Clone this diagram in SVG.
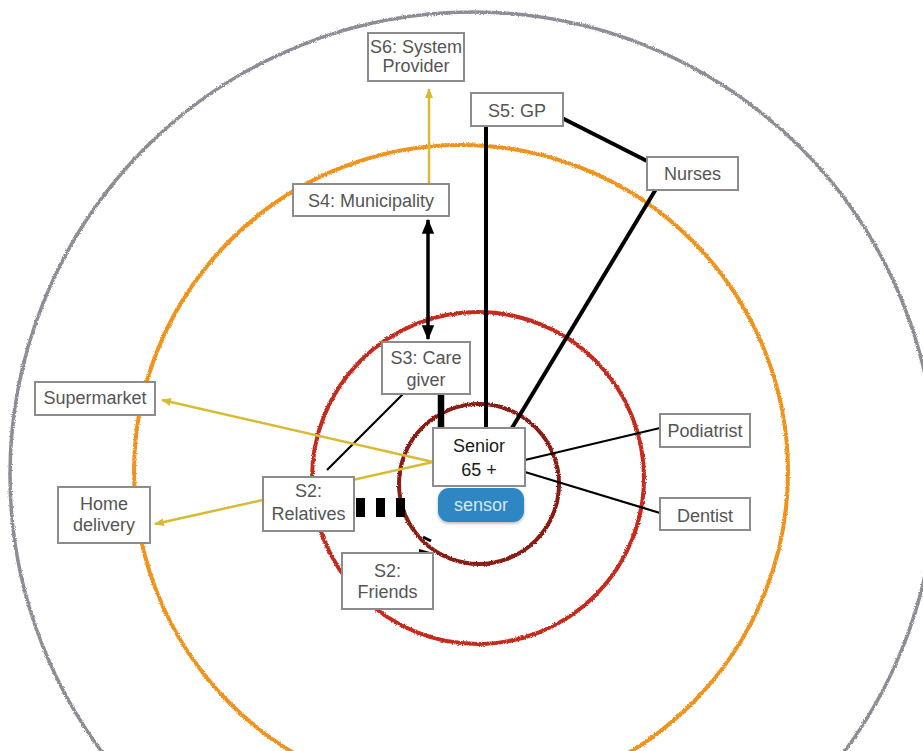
<svg xmlns="http://www.w3.org/2000/svg" width="923" height="751" viewBox="0 0 923 751">
  <style>
    .ring { fill: none; filter: url(#rough); }
    .box { fill: #ffffff; stroke: #8c8c8c; stroke-width: 2; }
    .lbl { font-family: "Liberation Sans", Arial, sans-serif; font-size: 18px; fill: #555555; text-anchor: middle; }
    .dark { fill: #1a1a1a; }
    .link { stroke: #000000; fill: none; }
    .gold { stroke: #d8bb34; fill: none; stroke-width: 2.5; }
  </style>
  <defs>
    <filter id="rough" x="-10%" y="-10%" width="120%" height="120%">
      <feTurbulence type="fractalNoise" baseFrequency="0.9" numOctaves="2" seed="3" result="n"/>
      <feDisplacementMap in="SourceGraphic" in2="n" scale="3" xChannelSelector="R" yChannelSelector="G"/>
    </filter>
    <filter id="shadow" x="-20%" y="-30%" width="140%" height="160%">
      <feDropShadow dx="0" dy="1.5" stdDeviation="1.5" flood-color="#000" flood-opacity="0.3"/>
    </filter>
    <marker id="goldHead" viewBox="0 0 10 10" refX="9" refY="5" markerWidth="4" markerHeight="4" orient="auto-start-reverse" markerUnits="strokeWidth">
      <path d="M0,1 L10,5 L0,9 Z" fill="#d8bb34"/>
    </marker>
    <marker id="blackHead" viewBox="0 0 12 10" refX="11" refY="5" markerWidth="4.4" markerHeight="3.6" orient="auto-start-reverse" markerUnits="strokeWidth">
      <path d="M0,0 L12,5 L0,10 Z" fill="#000"/>
    </marker>
  </defs>

  <!-- stakeholder rings, outermost first -->
  <g id="rings">
    <circle class="ring" cx="473" cy="475" r="463" stroke="#8d8d96" stroke-width="3.5"/>
    <circle class="ring" cx="461" cy="472" r="327" stroke="#f0931f" stroke-width="4"/>
    <circle class="ring" cx="478" cy="478" r="166" stroke="#c52a1c" stroke-width="4"/>
    <circle class="ring" cx="479" cy="484" r="80" stroke="#8a1d14" stroke-width="4"/>
  </g>

  <!-- connectors -->
  <g id="connectors">
    <line class="gold" x1="429" y1="184" x2="429" y2="89" marker-end="url(#goldHead)"/>
    <line class="link" x1="428" y1="220" x2="428" y2="339" stroke-width="3.5" marker-start="url(#blackHead)" marker-end="url(#blackHead)"/>
    <line class="link" x1="486" y1="126" x2="486" y2="428" stroke-width="4"/>
    <line class="link" x1="562" y1="118" x2="649" y2="162" stroke-width="4"/>
    <line class="link" x1="656" y1="189" x2="512" y2="428" stroke-width="4"/>
    <line class="link" x1="441" y1="394" x2="441" y2="428" stroke-width="6.5"/>
    <line class="link" x1="403" y1="394" x2="327" y2="470" stroke-width="2.2"/>
    <line class="gold" x1="433" y1="462" x2="162" y2="400" marker-end="url(#goldHead)"/>
    <line class="gold" x1="433" y1="462" x2="155" y2="524" marker-end="url(#goldHead)"/>
    <line class="link" x1="356" y1="507.5" x2="408" y2="507.5" stroke-width="19" stroke-dasharray="9 11"/>
    <line class="link" x1="423" y1="537" x2="431" y2="541" stroke-width="3"/>
    <path d="M419,549 L430,552 L419,554 Z" fill="#000"/>
    <line class="link" x1="525" y1="460" x2="660" y2="428" stroke-width="2.2"/>
    <line class="link" x1="525" y1="472" x2="660" y2="513" stroke-width="2.2"/>
  </g>

  <!-- stakeholder nodes -->
  <g id="s6">
    <rect class="box" x="368" y="33" width="96" height="48"/>
    <text class="lbl" x="416" y="53">S6: System</text>
    <text class="lbl" x="416" y="72">Provider</text>
  </g>
  <g id="s5">
    <rect class="box" x="471" y="93" width="92" height="33"/>
    <text class="lbl" x="517" y="117">S5: GP</text>
  </g>
  <g id="nurses">
    <rect class="box" x="647" y="157" width="91" height="33"/>
    <text class="lbl" x="692.5" y="180">Nurses</text>
  </g>
  <g id="s4">
    <rect class="box" x="293" y="184" width="156" height="32"/>
    <text class="lbl" x="371" y="207">S4: Municipality</text>
  </g>
  <g id="s3">
    <rect class="box" x="382" y="342" width="88" height="52"/>
    <text class="lbl" x="426" y="364">S3: Care</text>
    <text class="lbl" x="426" y="386">giver</text>
  </g>
  <g id="senior">
    <rect class="box" x="433" y="428" width="92" height="58"/>
    <text class="lbl dark" x="479" y="452">Senior</text>
    <text class="lbl dark" x="479" y="476">65 +</text>
  </g>
  <g id="sensor">
    <rect x="438" y="488" width="86" height="34" rx="11" fill="#2f86c2" filter="url(#shadow)"/>
    <text class="lbl" x="481" y="511" style="fill:#d6e8f6">sensor</text>
  </g>
  <g id="supermarket">
    <rect class="box" x="35" y="382" width="120" height="33"/>
    <text class="lbl" x="95" y="404">Supermarket</text>
  </g>
  <g id="home-delivery">
    <rect class="box" x="58" y="487" width="92" height="56"/>
    <text class="lbl" x="104" y="510">Home</text>
    <text class="lbl" x="104" y="531">delivery</text>
  </g>
  <g id="s2-relatives">
    <rect class="box" x="263" y="477" width="91" height="54"/>
    <text class="lbl" x="308.5" y="497">S2:</text>
    <text class="lbl" x="308.5" y="520">Relatives</text>
  </g>
  <g id="s2-friends">
    <rect class="box" x="342" y="553" width="91" height="56"/>
    <text class="lbl" x="387.5" y="577">S2:</text>
    <text class="lbl" x="387.5" y="598">Friends</text>
  </g>
  <g id="podiatrist">
    <rect class="box" x="660" y="414" width="90" height="33"/>
    <text class="lbl" x="705" y="437">Podiatrist</text>
  </g>
  <g id="dentist">
    <rect class="box" x="660" y="498" width="90" height="32"/>
    <text class="lbl" x="705" y="522">Dentist</text>
  </g>
</svg>
